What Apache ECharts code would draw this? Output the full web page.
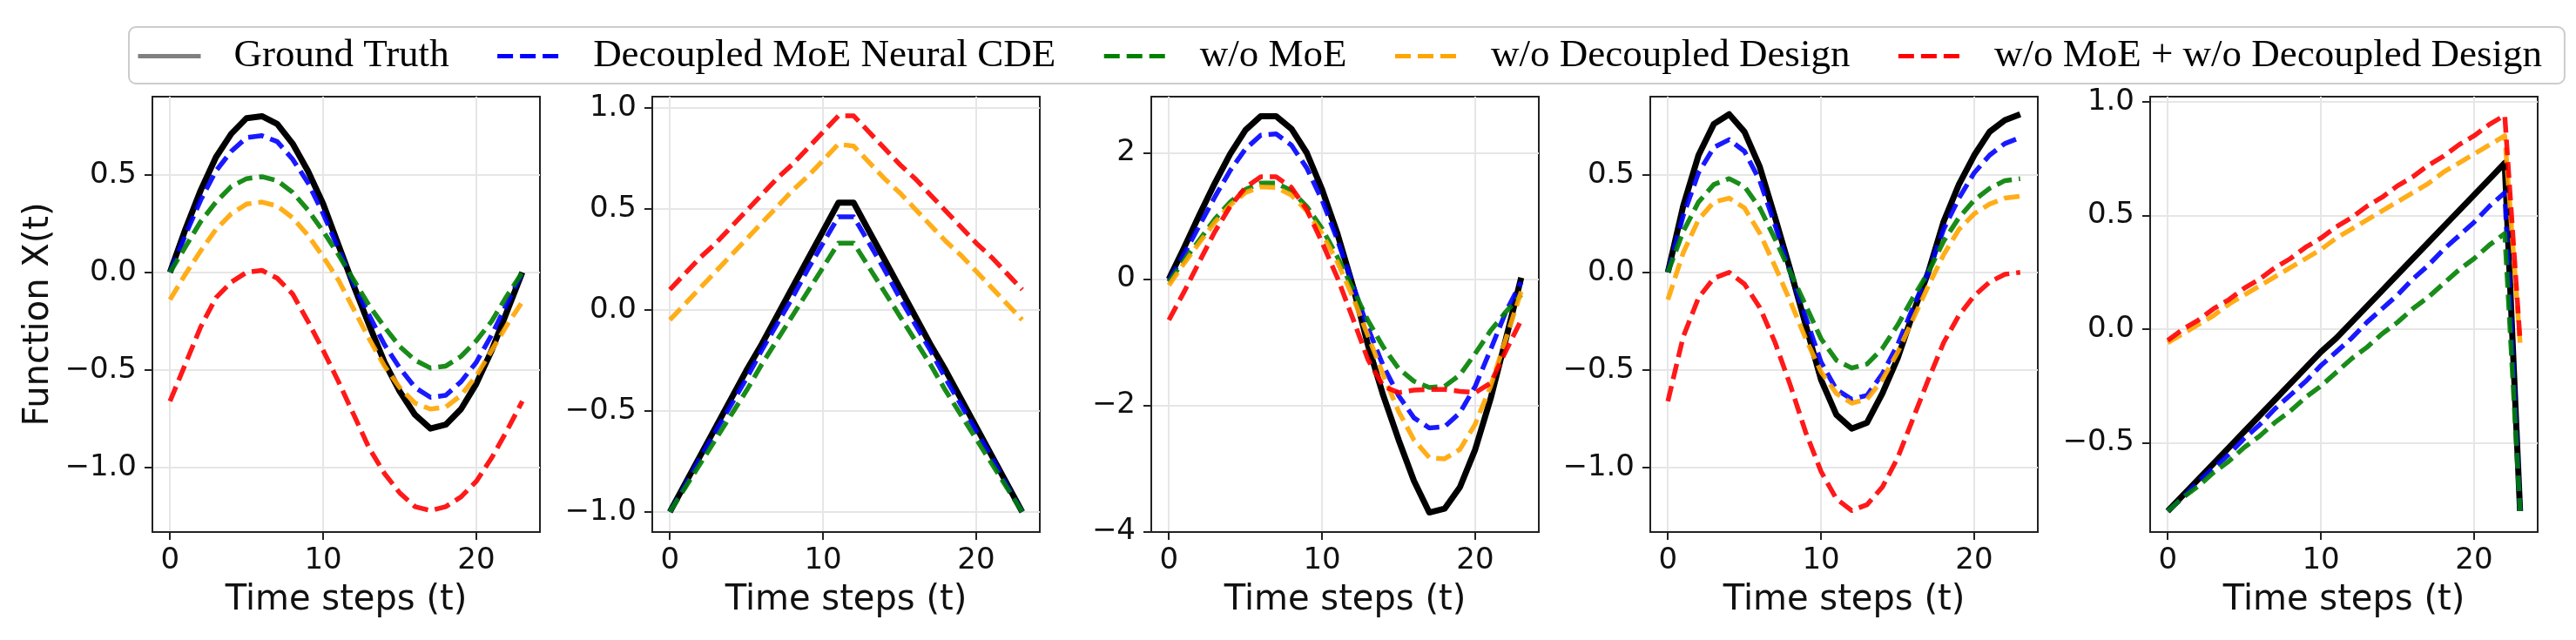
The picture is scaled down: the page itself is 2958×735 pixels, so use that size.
<!DOCTYPE html>
<html>
<head>
<meta charset="utf-8">
<title>Ablation curves</title>
<script src="https://cdn.jsdelivr.net/npm/echarts@6/dist/echarts.min.js"></script>
<style>
    html, body { margin: 0; padding: 0; background: #fff; }
    #chart { width: 2958px; height: 735px; }
</style>
</head>
<body>
<div id="chart"></div>
<script>
// series names (legend order)
var seriesNames = ['Ground Truth', 'Decoupled MoE Neural CDE', 'w/o MoE', 'w/o Decoupled Design', 'w/o MoE + w/o Decoupled Design'];

var timeSteps = [0, 1, 2, 3, 4, 5, 6, 7, 8, 9, 10, 11, 12, 13, 14, 15, 16, 17, 18, 19, 20, 21, 22, 23];
var xTicks = [0, 10, 20];

// panel 1 - sine
var p1Truth = [0.00, 0.22, 0.42, 0.59, 0.71, 0.79, 0.80, 0.76, 0.66, 0.52, 0.35, 0.14, -0.07, -0.27, -0.46, -0.61, -0.73, -0.80, -0.78, -0.70, -0.57, -0.40, -0.20, 0.00];
var p1Moe = [0.00, 0.19, 0.37, 0.52, 0.62, 0.69, 0.70, 0.67, 0.58, 0.46, 0.30, 0.12, -0.06, -0.22, -0.37, -0.49, -0.59, -0.64, -0.63, -0.56, -0.46, -0.32, -0.16, 0.00];
var p1NoMoe = [0.00, 0.13, 0.26, 0.36, 0.44, 0.48, 0.49, 0.47, 0.41, 0.32, 0.21, 0.09, -0.04, -0.17, -0.28, -0.38, -0.45, -0.49, -0.48, -0.43, -0.35, -0.25, -0.12, 0.00];
var p1NoDec = [-0.14, -0.01, 0.11, 0.22, 0.30, 0.35, 0.36, 0.34, 0.28, 0.19, 0.08, -0.04, -0.19, -0.34, -0.48, -0.59, -0.67, -0.70, -0.69, -0.63, -0.53, -0.40, -0.27, -0.15];
var p1NoBoth = [-0.66, -0.47, -0.28, -0.13, -0.05, 0.00, 0.01, -0.03, -0.11, -0.25, -0.40, -0.56, -0.73, -0.90, -1.03, -1.13, -1.20, -1.22, -1.20, -1.15, -1.07, -0.95, -0.81, -0.66];
var p1YTicks = [-1.0, -0.5, 0.0, 0.5];

// panel 2 - triangle
var p2Truth = [-1.00, -0.86, -0.72, -0.58, -0.44, -0.30, -0.17, -0.03, 0.11, 0.25, 0.39, 0.53, 0.53, 0.39, 0.25, 0.11, -0.03, -0.17, -0.30, -0.44, -0.58, -0.72, -0.86, -1.00];
var p2Moe = [-1.00, -0.87, -0.73, -0.60, -0.47, -0.34, -0.20, -0.07, 0.06, 0.20, 0.33, 0.46, 0.46, 0.33, 0.20, 0.06, -0.07, -0.20, -0.34, -0.47, -0.60, -0.73, -0.87, -1.00];
var p2NoMoe = [-1.00, -0.88, -0.76, -0.64, -0.52, -0.40, -0.27, -0.15, -0.03, 0.09, 0.21, 0.33, 0.33, 0.21, 0.09, -0.03, -0.15, -0.27, -0.40, -0.52, -0.64, -0.76, -0.88, -1.00];
var p2NoDec = [-0.05, 0.03, 0.11, 0.19, 0.27, 0.35, 0.43, 0.51, 0.59, 0.66, 0.74, 0.82, 0.81, 0.73, 0.65, 0.58, 0.50, 0.42, 0.34, 0.27, 0.19, 0.11, 0.03, -0.05];
var p2NoBoth = [0.10, 0.18, 0.26, 0.33, 0.41, 0.49, 0.57, 0.65, 0.72, 0.80, 0.88, 0.96, 0.96, 0.88, 0.80, 0.72, 0.65, 0.57, 0.49, 0.41, 0.33, 0.26, 0.18, 0.10];
var p2YTicks = [-1.0, -0.5, 0.0, 0.5, 1.0];

// panel 3 - large amplitude sine
var p3Truth = [0.00, 0.50, 1.02, 1.52, 1.98, 2.36, 2.58, 2.58, 2.38, 2.00, 1.42, 0.72, -0.10, -1.05, -1.85, -2.55, -3.20, -3.70, -3.64, -3.30, -2.70, -1.90, -0.95, 0.02];
var p3Moe = [-0.03, 0.40, 0.85, 1.30, 1.72, 2.06, 2.28, 2.30, 2.12, 1.76, 1.25, 0.62, -0.08, -0.78, -1.38, -1.85, -2.20, -2.36, -2.34, -2.12, -1.70, -1.12, -0.52, -0.05];
var p3NoMoe = [-0.05, 0.30, 0.62, 0.95, 1.22, 1.42, 1.52, 1.52, 1.40, 1.15, 0.80, 0.35, -0.15, -0.66, -1.08, -1.42, -1.62, -1.72, -1.70, -1.52, -1.18, -0.82, -0.52, -0.25];
var p3NoDec = [-0.10, 0.25, 0.58, 0.90, 1.17, 1.37, 1.46, 1.45, 1.33, 1.08, 0.72, 0.27, -0.28, -0.90, -1.52, -2.10, -2.55, -2.83, -2.85, -2.70, -2.30, -1.70, -0.95, -0.20];
var p3NoBoth = [-0.65, -0.20, 0.28, 0.75, 1.15, 1.45, 1.62, 1.62, 1.45, 1.10, 0.58, 0.02, -0.62, -1.28, -1.70, -1.80, -1.76, -1.75, -1.75, -1.78, -1.80, -1.65, -1.14, -0.65];
var p3YTicks = [-4, -2, 0, 2];

// panel 4 - faster sine
var p4Truth = [0.00, 0.34, 0.60, 0.76, 0.81, 0.72, 0.54, 0.28, 0.01, -0.27, -0.55, -0.73, -0.80, -0.77, -0.62, -0.44, -0.21, 0.00, 0.26, 0.45, 0.60, 0.72, 0.78, 0.81];
var p4Moe = [0.00, 0.29, 0.51, 0.64, 0.68, 0.62, 0.47, 0.24, 0.00, -0.23, -0.46, -0.60, -0.65, -0.63, -0.52, -0.37, -0.18, 0.00, 0.22, 0.38, 0.51, 0.60, 0.66, 0.69];
var p4NoMoe = [0.00, 0.21, 0.36, 0.45, 0.48, 0.44, 0.33, 0.17, 0.00, -0.17, -0.34, -0.45, -0.49, -0.47, -0.39, -0.27, -0.13, 0.00, 0.16, 0.28, 0.37, 0.43, 0.47, 0.48];
var p4NoDec = [-0.14, 0.10, 0.27, 0.36, 0.38, 0.33, 0.20, 0.03, -0.15, -0.34, -0.51, -0.62, -0.67, -0.65, -0.55, -0.41, -0.24, -0.07, 0.09, 0.22, 0.30, 0.35, 0.38, 0.39];
var p4NoBoth = [-0.66, -0.33, -0.13, -0.03, 0.00, -0.06, -0.18, -0.36, -0.58, -0.82, -1.02, -1.16, -1.22, -1.19, -1.10, -0.95, -0.75, -0.55, -0.36, -0.22, -0.12, -0.05, -0.01, 0.00];
var p4YTicks = [-1.0, -0.5, 0.0, 0.5];

// panel 5 - sawtooth
var p5Truth = [-0.80, -0.73, -0.66, -0.59, -0.52, -0.45, -0.38, -0.31, -0.24, -0.17, -0.10, -0.04, 0.03, 0.10, 0.17, 0.24, 0.31, 0.38, 0.45, 0.52, 0.59, 0.66, 0.73, -0.80];
var p5Moe = [-0.80, -0.74, -0.67, -0.61, -0.55, -0.48, -0.42, -0.35, -0.29, -0.23, -0.16, -0.10, -0.04, 0.03, 0.09, 0.15, 0.22, 0.28, 0.35, 0.41, 0.47, 0.54, 0.60, -0.80];
var p5NoMoe = [-0.80, -0.74, -0.69, -0.63, -0.58, -0.52, -0.47, -0.41, -0.36, -0.30, -0.25, -0.19, -0.13, -0.08, -0.02, 0.03, 0.09, 0.14, 0.20, 0.26, 0.31, 0.37, 0.42, -0.80];
var p5NoDec = [-0.06, -0.02, 0.02, 0.06, 0.11, 0.15, 0.19, 0.23, 0.27, 0.31, 0.35, 0.40, 0.44, 0.48, 0.52, 0.56, 0.60, 0.64, 0.69, 0.73, 0.77, 0.81, 0.85, -0.06];
var p5NoBoth = [-0.05, 0.00, 0.04, 0.09, 0.13, 0.18, 0.22, 0.27, 0.31, 0.36, 0.40, 0.45, 0.49, 0.54, 0.58, 0.63, 0.67, 0.72, 0.76, 0.81, 0.85, 0.90, 0.94, -0.05];
var p5YTicks = [-0.5, 0.0, 0.5, 1.0];

var panelData = [
    [p1Truth, p1Moe, p1NoMoe, p1NoDec, p1NoBoth],
    [p2Truth, p2Moe, p2NoMoe, p2NoDec, p2NoBoth],
    [p3Truth, p3Moe, p3NoMoe, p3NoDec, p3NoBoth],
    [p4Truth, p4Moe, p4NoMoe, p4NoDec, p4NoBoth],
    [p5Truth, p5Moe, p5NoMoe, p5NoDec, p5NoBoth]
];
var panelTicks = [p1YTicks, p2YTicks, p3YTicks, p4YTicks, p5YTicks];

// layout (pixels / axis extents like matplotlib's 5% margins)
var gridLefts = [175, 749, 1322, 1895, 2469];
var yExtents = [[-1.33, 0.90], [-1.10, 1.055], [-4.01, 2.89], [-1.33, 0.90], [-0.892, 1.022]];
var lineColors = ['#000000', '#0000ff', '#008000', '#ffa500', '#ff0000'];

var axisFont = 'DejaVu Sans';
var frameColor = '#222';

function minusFmt(decimals) {
    return function (v) {
        return v.toFixed(decimals).replace('-', '\u2212');
    };
}

function buildPanels() {
    var grids = [], xAxes = [], yAxes = [], series = [];
    for (var i = 0; i < panelData.length; i++) {
        grids.push({
            left: gridLefts[i],
            top: 111,
            width: 445,
            height: 500,
            show: true,
            backgroundColor: '#fff',
            borderColor: frameColor,
            borderWidth: 2
        });
        xAxes.push({
            gridIndex: i,
            type: 'value',
            min: -1.15,
            max: 24.15,
            axisLine: { show: true, onZero: false, lineStyle: { color: frameColor, width: 2 } },
            axisTick: { show: true, length: 9, customValues: xTicks, lineStyle: { color: frameColor, width: 2 } },
            axisLabel: { customValues: xTicks, fontSize: 34, fontFamily: axisFont, color: '#111', margin: 16 },
            splitLine: { show: true, lineStyle: { color: '#e6e6e6', width: 2 } },
            name: 'Time steps (t)',
            nameLocation: 'middle',
            nameGap: 59,
            nameTextStyle: { fontSize: 40, fontFamily: axisFont, color: '#111' }
        });
        var yAxis = {
            gridIndex: i,
            type: 'value',
            min: yExtents[i][0],
            max: yExtents[i][1],
            axisLine: { show: true, onZero: false, lineStyle: { color: frameColor, width: 2 } },
            axisTick: { show: true, length: 9, customValues: panelTicks[i], lineStyle: { color: frameColor, width: 2 } },
            axisLabel: {
                customValues: panelTicks[i],
                fontSize: 34, fontFamily: axisFont, color: '#111', margin: 18,
                formatter: minusFmt(i === 2 ? 0 : 1)
            },
            splitLine: { show: true, lineStyle: { color: '#e6e6e6', width: 2 } }
        };
        if (i === 0) {
            yAxis.name = 'Function X(t)';
            yAxis.nameLocation = 'middle';
            yAxis.nameGap = 110;
            yAxis.nameTextStyle = { fontSize: 40, fontFamily: axisFont, color: '#111' };
        }
        yAxes.push(yAxis);

        for (var s = 0; s < seriesNames.length; s++) {
            var vals = panelData[i][s];
            var pts = [];
            for (var k = 0; k < timeSteps.length; k++) {
                pts.push([timeSteps[k], vals[k]]);
            }
            series.push({
                name: seriesNames[s],
                type: 'line',
                xAxisIndex: i,
                yAxisIndex: i,
                data: pts,
                symbol: 'none',
                smooth: false,
                lineStyle: {
                    color: lineColors[s],
                    width: s === 0 ? 7 : 5.5,
                    type: s === 0 ? 'solid' : [18, 8],
                    opacity: s === 0 ? 1 : 0.9,
                    cap: 'butt',
                    join: 'round'
                },
                itemStyle: { color: lineColors[s] },
                emphasis: { disabled: true }
            });
        }
    }
    return { grids: grids, xAxes: xAxes, yAxes: yAxes, series: series };
}

var myChart = echarts.init(document.getElementById('chart'));
var built = buildPanels();

// legend handles: lines only (the middle symbol is hidden)
var legendData = [{
    name: seriesNames[0],
    itemStyle: { color: '#808080', opacity: 0 },
    lineStyle: { color: '#808080', type: 'solid', opacity: 1 }
}];
for (var n = 1; n < seriesNames.length; n++) {
    legendData.push(seriesNames[n]);
}

var option = {
    animation: false,
    backgroundColor: '#fff',
    legend: {
        data: legendData,
        left: 148,
        top: 31,
        padding: [11, 26, 9, 8],
        itemWidth: 72,
        itemHeight: 14,
        itemGap: 53,
        selectedMode: false,
        backgroundColor: '#fff',
        borderColor: '#cccccc',
        borderWidth: 2,
        borderRadius: 8,
        itemStyle: { opacity: 0, borderWidth: 0 },
        lineStyle: { width: 5, opacity: 1 },
        textStyle: {
            fontFamily: 'Liberation Serif',
            fontSize: 45,
            color: '#000',
            padding: [0, 0, 0, 33]
        }
    },
    grid: built.grids,
    xAxis: built.xAxes,
    yAxis: built.yAxes,
    series: built.series
};
myChart.setOption(option);
window.addEventListener('resize', function () {
    myChart.resize();
});
</script>
</body>
</html>
